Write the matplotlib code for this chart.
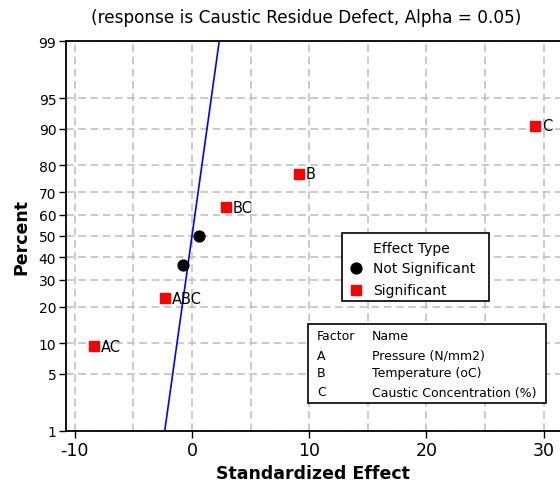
import matplotlib
matplotlib.use("Agg")
import matplotlib.pyplot as plt
from matplotlib.patches import Rectangle
from matplotlib.lines import Line2D
from statistics import NormalDist

# ---- data ----
effects = [-8.34, -2.33, -0.74, 0.62, 2.87, 9.13, 29.27]
percents = [9.46, 22.97, 36.49, 50.0, 63.51, 77.03, 90.54]
labels = ["AC", "ABC", "", "", "BC", "B", "C"]
significant = [True, True, False, False, True, True, True]
y_ticks = [1, 5, 10, 20, 30, 40, 50, 60, 70, 80, 90, 95, 99]
x_ticks = [-10, 0, 10, 20, 30]
x_grid = [-10, -5, 0, 5, 10, 15, 20, 25, 30]
factors = ["A", "B", "C"]
factor_names = ["Pressure (N/mm2)", "Temperature (oC)", "Caustic Concentration (%)"]
title = "(response is Caustic Residue Defect, Alpha = 0.05)"

nd = NormalDist()
z = lambda p: nd.inv_cdf(p / 100.0)

W, H = 560, 489
fig = plt.figure(figsize=(W / 100, H / 100), dpi=100)

def fx(px):
    return px / W

def fy(py):
    return 1 - py / H

ax_l, ax_r, ax_t, ax_b = 66, 560, 42, 432
ax = fig.add_axes([fx(ax_l), fy(ax_b), (ax_r - ax_l) / W, (ax_b - ax_t) / H])

ax.set_ylim(z(1), z(99))
ax.set_xlim(-10.75, 31.4)

grid_kw = dict(color="#bcbcbc", linestyle=(0, (5, 3)), linewidth=1.1, zorder=0)
for xv in x_grid:
    ax.axvline(xv, **grid_kw)
for p in y_ticks:
    ax.axhline(z(p), **grid_kw)

# fitted normal line (standard normal for standardized effects)
zz = [z(1), z(99)]
ax.plot(zz, zz, color="#0000ff", linewidth=1.2, zorder=2)

for e, p, lab, s in zip(effects, percents, labels, significant):
    if s:
        ax.plot(e, z(p), marker="s", color="#ff0000", markersize=6.8, zorder=3, linestyle="none")
    else:
        ax.plot(e, z(p), marker="o", color="black", markersize=7.8, zorder=3, linestyle="none")
    if lab:
        ax.annotate(lab, (e, z(p)), xytext=(5, 0), textcoords="offset points",
                    va="center", ha="left", fontsize=10.5, zorder=4)

ax.set_yticks([z(p) for p in y_ticks])
ax.set_yticklabels([str(p) for p in y_ticks], fontsize=10)
ax.set_xticks(x_ticks)
ax.set_xticklabels([str(v) for v in x_ticks], fontsize=12.5)
ax.tick_params(direction="out", length=5, width=1, colors="black", pad=2)

for sp in ["left", "bottom", "top"]:
    ax.spines[sp].set_linewidth(1.3)
ax.spines["right"].set_visible(False)

ax.set_xlabel("Standardized Effect", fontsize=12.5, fontweight="bold", labelpad=4)
ax.set_ylabel("Percent", fontsize=12.5, fontweight="bold", labelpad=6)

fig.text(fx(306), fy(18), title, ha="center", va="center", fontsize=12.2)

# Effect type legend box
fig.patches.append(Rectangle((fx(342), fy(302)), (489 - 342) / W, (302 - 234) / H,
                             transform=fig.transFigure, facecolor="white",
                             edgecolor="black", linewidth=1.2, zorder=5))
fig.text(fx(373), fy(249), "Effect Type", ha="left", va="center", fontsize=10, zorder=6)
fig.lines.append(Line2D([fx(356)], [fy(269)], marker="o", color="black", markersize=7.8,
                        transform=fig.transFigure, zorder=6))
fig.text(fx(373), fy(269), "Not Significant", ha="left", va="center", fontsize=10, zorder=6)
fig.lines.append(Line2D([fx(356)], [fy(291)], marker="s", color="#ff0000", markersize=6.8,
                        transform=fig.transFigure, zorder=6))
fig.text(fx(373), fy(291), "Significant", ha="left", va="center", fontsize=10, zorder=6)

# Factor table box
fig.patches.append(Rectangle((fx(308), fy(404)), (546 - 308) / W, (404 - 325) / H,
                             transform=fig.transFigure, facecolor="white",
                             edgecolor="black", linewidth=1.2, zorder=5))
rows_y = [337, 356, 374, 393]
fig.text(fx(317), fy(rows_y[0]), "Factor", ha="left", va="center", fontsize=9, zorder=6)
fig.text(fx(372), fy(rows_y[0]), "Name", ha="left", va="center", fontsize=9, zorder=6)
for f, n, yy in zip(factors, factor_names, rows_y[1:]):
    fig.text(fx(317), fy(yy), f, ha="left", va="center", fontsize=9, zorder=6)
    fig.text(fx(372), fy(yy), n, ha="left", va="center", fontsize=9, zorder=6)

fig.savefig("out.png", dpi=100)
